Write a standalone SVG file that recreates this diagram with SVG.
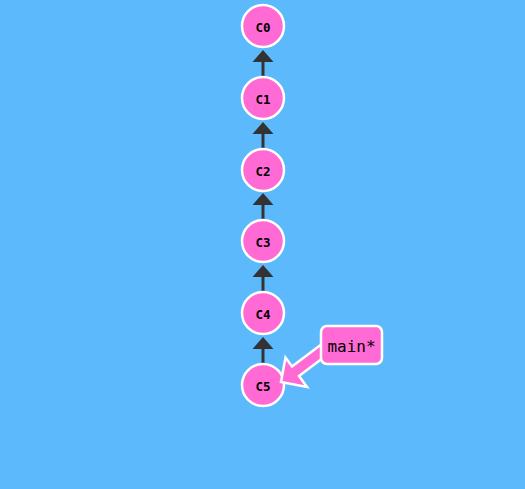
<svg xmlns="http://www.w3.org/2000/svg" width="525" height="489" viewBox="0 0 525 489">
<style>
.commit circle{fill:#ff6ad5;stroke:#fff;stroke-width:2.5}
.commit text{font-family:"DejaVu Sans Mono","Liberation Mono",monospace;font-weight:bold;font-size:12.5px;fill:#000;text-anchor:middle;dominant-baseline:central}
.edge line{stroke:#333;stroke-width:3}
.edge polygon{fill:#333}
.label{font-family:"DejaVu Sans Mono","Liberation Mono",monospace;font-size:16px;fill:#000}
</style>
<rect width="525" height="489" fill="#5cbafc"/>
<g id="connectors" class="edge">
<line x1="263" y1="62" x2="263" y2="77"/><polygon points="263,50 252.5,62 273.5,62"/>
<line x1="263" y1="134" x2="263" y2="149"/><polygon points="263,122 252.5,134 273.5,134"/>
<line x1="263" y1="205" x2="263" y2="220"/><polygon points="263,193 252.5,205 273.5,205"/>
<line x1="263" y1="277" x2="263" y2="292"/><polygon points="263,265 252.5,277 273.5,277"/>
<line x1="263" y1="349" x2="263" y2="364"/><polygon points="263,337 252.5,349 273.5,349"/>
</g>
<g id="C0" class="commit"><circle cx="263" cy="26" r="21"/><text x="263" y="27">C0</text></g>
<g id="C1" class="commit"><circle cx="263" cy="98" r="21"/><text x="263" y="99">C1</text></g>
<g id="C2" class="commit"><circle cx="263" cy="170" r="21"/><text x="263" y="171">C2</text></g>
<g id="C3" class="commit"><circle cx="263" cy="241" r="21"/><text x="263" y="242">C3</text></g>
<g id="C4" class="commit"><circle cx="263" cy="313" r="21"/><text x="263" y="314">C4</text></g>
<g id="C5" class="commit"><circle cx="263" cy="385" r="21"/><text x="263" y="386">C5</text></g>
<g id="main">
<polygon points="281,382 285.5,357.5 292,366.5 320.5,345 327.5,354.5 299,376 307,387" fill="#ff6ad5" stroke="#fff" stroke-width="2.5" stroke-linejoin="miter"/>
<rect x="321" y="326" width="61" height="38" rx="6" fill="#ff6ad5" stroke="#fff" stroke-width="2.5"/>
<text class="label" x="351.5" y="346.5" text-anchor="middle" dominant-baseline="central">main*</text>
</g>
</svg>
